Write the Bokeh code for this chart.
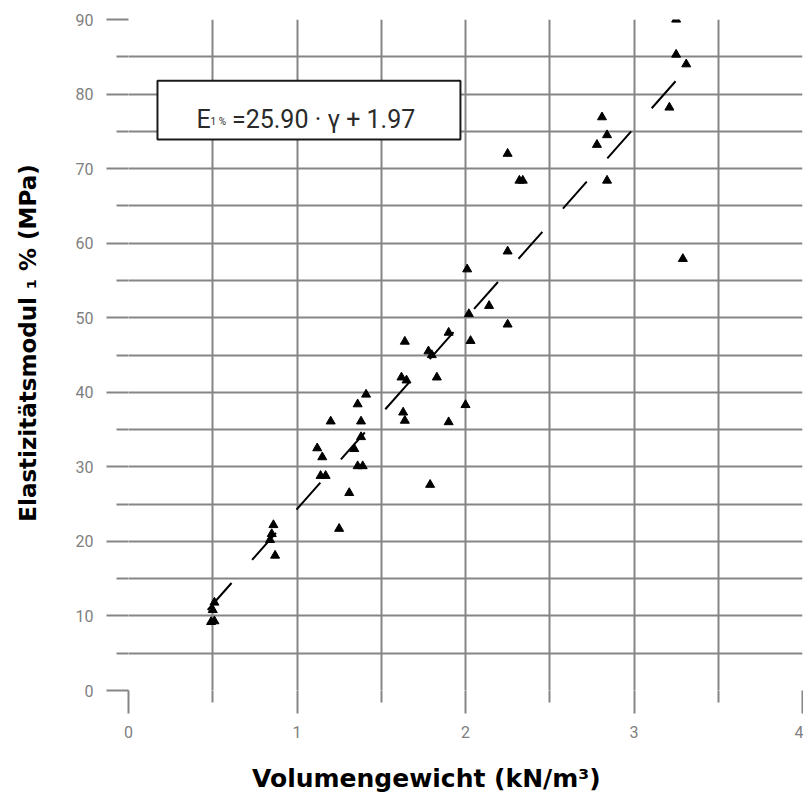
from bokeh.plotting import figure
from bokeh.models import FixedTicker, Label, BoxAnnotation, Range1d
from bokeh.embed import file_html
from bokeh.resources import INLINE

# ---- data ----
x_vals = [0.49, 0.51, 0.50, 0.51,
          0.86, 0.85, 0.84, 0.87,
          1.25, 1.31, 1.79, 1.14, 1.17, 1.15, 1.12, 1.34, 1.36, 1.39, 1.38, 1.38, 1.20, 1.36, 1.41,
          1.63, 1.64, 1.90, 2.00, 1.62, 1.65, 1.83, 1.64, 1.78, 1.80, 1.90, 2.03, 2.25, 2.02, 2.14, 2.01, 2.25,
          2.32, 2.34, 2.25, 2.78, 2.84, 2.81, 2.84, 3.21, 3.25, 3.31, 3.25, 3.29]
y_vals = [9.2, 9.3, 10.8, 11.8,
          22.2, 21.0, 20.2, 18.1,
          21.7, 26.5, 27.6, 28.8, 28.8, 31.3, 32.5, 32.4, 30.1, 30.1, 34.0, 36.1, 36.1, 38.4, 39.7,
          37.3, 36.2, 36.0, 38.3, 42.0, 41.6, 42.0, 46.8, 45.5, 45.0, 48.0, 46.9, 49.1, 50.5, 51.6, 56.5, 58.9,
          68.4, 68.4, 72.0, 73.2, 74.5, 76.9, 68.4, 78.2, 85.3, 84.0, 90.0, 57.9]

trend_x = [0.47, 3.25]
trend_y = [10.8, 81.8]

x_ticks = [0, 1, 2, 3, 4]
x_minor = [0.5, 1.5, 2.5, 3.5]
y_ticks = [0, 10, 20, 30, 40, 50, 60, 70, 80, 90]
y_minor = [5, 15, 25, 35, 45, 55, 65, 75, 85]

NBSP = "\u00a0"
x_title = "Volumengewicht (kN/m³)"
y_title = "Elastizitätsmodul ₁ % (MPa)"
eq_main = "E"
eq_sub = "1 %"
eq_rest = "=25.90 · γ + 1.97"

GRID = "#858585"

p = figure(width=803, height=798, output_backend="svg", toolbar_location=None,
           x_range=Range1d(0, 4), y_range=Range1d(0, 90),
           min_border_left=128, min_border_right=1, min_border_top=19, min_border_bottom=108)
p.outline_line_color = None
p.background_fill_color = "white"
p.border_fill_color = "white"

for g, tk, mn in ((p.xgrid, x_ticks, x_minor), (p.ygrid, y_ticks, y_minor)):
    g.ticker = FixedTicker(ticks=tk, minor_ticks=mn)
    g.grid_line_color = GRID
    g.grid_line_width = 2
    g.minor_grid_line_color = GRID
    g.minor_grid_line_width = 2

p.xaxis.ticker = FixedTicker(ticks=x_ticks, minor_ticks=x_minor)
p.yaxis.ticker = FixedTicker(ticks=y_ticks, minor_ticks=y_minor)
for ax, mo, mi, so in ((p.xaxis, 23, 12, 12), (p.yaxis, 22, 12, 13)):
    ax.axis_line_color = None
    ax.major_tick_line_color = GRID
    ax.major_tick_line_width = 2
    ax.minor_tick_line_color = GRID
    ax.minor_tick_line_width = 2
    ax.major_tick_in = 0
    ax.minor_tick_in = 0
    ax.major_tick_out = mo
    ax.minor_tick_out = mi
    ax.major_label_standoff = so
    ax.major_label_text_font = "Roboto"
    ax.major_label_text_font_size = "16px"
    ax.major_label_text_color = "#808080"
    ax.axis_label_text_font = "DejaVu Sans"
    ax.axis_label_text_font_style = "bold"
    ax.axis_label_text_color = "black"

# titles (non-breaking spaces only shift the centred title to where the reference has it)
p.xaxis.axis_label = x_title + NBSP * 9
p.xaxis.axis_label_standoff = 23
p.xaxis.axis_label_text_font_size = "25px"
p.yaxis.axis_label = NBSP * 3 + y_title
p.yaxis.axis_label_standoff = 32
p.yaxis.axis_label_text_font_size = "23px"

p.line(trend_x, trend_y, line_color="black", line_width=2, line_dash="36 31")
p.scatter(x_vals, y_vals, marker="triangle", size=9, fill_color="black", line_color="black")

box = BoxAnnotation(left=0.172, right=1.97, bottom=73.9, top=81.8,
                    fill_color="white", fill_alpha=1.0,
                    line_color="#1a1a1a", line_alpha=1.0, line_width=2)
p.add_layout(box)

p.add_layout(Label(x=0.404, y=76.54, text=eq_main, text_font="Roboto", text_font_size="25px",
                   text_color="#2a2a2a", text_baseline="alphabetic", text_align="left"))
p.add_layout(Label(x=0.487, y=76.3, text=eq_sub, text_font="Roboto", text_font_size="10px",
                   text_color="#2a2a2a", text_baseline="alphabetic", text_align="left"))
p.add_layout(Label(x=0.614, y=76.54, text=eq_rest, text_font="Roboto", text_font_size="25px",
                   text_color="#2a2a2a", text_baseline="alphabetic", text_align="left"))

open("out.html", "w").write(file_html(p, INLINE))
